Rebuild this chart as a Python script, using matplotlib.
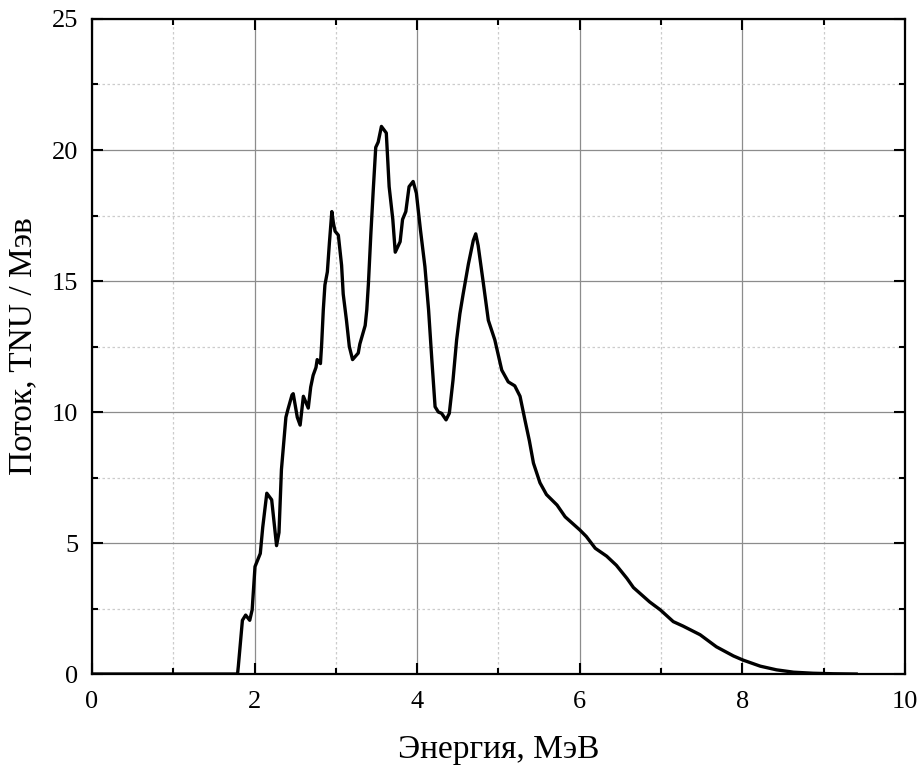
import matplotlib
matplotlib.use("Agg")
import matplotlib.pyplot as plt
from matplotlib.ticker import MultipleLocator

# spectrum
energy = [0.0, 1.79, 1.80, 1.82, 1.85, 1.89, 1.94, 1.97, 2.005, 2.07, 2.10,
          2.15, 2.21, 2.27, 2.30, 2.33, 2.385, 2.41, 2.46, 2.475, 2.525, 2.56,
          2.60, 2.66, 2.69, 2.72, 2.755, 2.77, 2.81, 2.825, 2.845, 2.865,
          2.895, 2.92, 2.95, 2.97, 2.99, 3.03, 3.07, 3.09, 3.13, 3.165, 3.205,
          3.275, 3.295, 3.36, 3.38, 3.40, 3.43, 3.46, 3.49, 3.52, 3.56, 3.62,
          3.655, 3.70, 3.73, 3.79, 3.82, 3.86, 3.90, 3.95, 3.99, 4.04, 4.095,
          4.14, 4.18, 4.22, 4.26, 4.30, 4.355, 4.395, 4.44, 4.485, 4.525,
          4.565, 4.63, 4.69, 4.72, 4.75, 4.81, 4.875, 4.955, 5.04, 5.12, 5.20,
          5.265, 5.325, 5.38, 5.43, 5.51, 5.59, 5.72, 5.82, 6.00, 6.08, 6.19,
          6.33, 6.45, 6.58, 6.66, 6.86, 6.99, 7.15, 7.27, 7.48, 7.68, 7.89,
          8.01, 8.22, 8.42, 8.63, 8.87, 9.12, 9.4]
flux = [0.0, 0.0, 0.3, 1.0, 2.05, 2.25, 2.05, 2.45, 4.1, 4.6, 5.6,
        6.9, 6.65, 4.9, 5.4, 7.8, 9.8, 10.1, 10.65, 10.7, 9.8, 9.5,
        10.6, 10.15, 10.95, 11.4, 11.7, 12.0, 11.85, 12.6, 13.9, 14.85,
        15.35, 16.45, 17.65, 17.2, 16.9, 16.75, 15.6, 14.5, 13.5, 12.5, 12.0,
        12.25, 12.6, 13.3, 13.9, 14.9, 16.8, 18.5, 20.1, 20.3, 20.9, 20.65,
        18.6, 17.35, 16.1, 16.5, 17.35, 17.65, 18.6, 18.8, 18.35, 16.95, 15.55,
        13.9, 12.0, 10.2, 10.0, 9.95, 9.7, 9.95, 11.2, 12.75, 13.75,
        14.5, 15.65, 16.55, 16.8, 16.35, 15.0, 13.5, 12.75, 11.6, 11.15, 11.0,
        10.6, 9.7, 8.9, 8.05, 7.3, 6.85, 6.45, 6.0, 5.5, 5.25, 4.8,
        4.5, 4.15, 3.65, 3.3, 2.75, 2.45, 2.0, 1.83, 1.5, 1.04, 0.69,
        0.53, 0.3, 0.16, 0.07, 0.03, 0.01, 0.0]

plt.rcParams["font.family"] = ["Liberation Serif", "DejaVu Serif"]

fig = plt.figure(figsize=(9.21, 7.69), dpi=100)
ax = fig.add_axes([0.0999, 0.1235, 0.8827, 0.8518])

ax.plot(energy, flux, color="black", lw=2.4, solid_joinstyle="round")

ax.set_xlim(0, 10)
ax.set_ylim(0, 25)
ax.xaxis.set_major_locator(MultipleLocator(2))
ax.xaxis.set_minor_locator(MultipleLocator(1))
ax.yaxis.set_major_locator(MultipleLocator(5))
ax.yaxis.set_minor_locator(MultipleLocator(2.5))

ax.grid(which="major", color="#8c8c8c", lw=0.9, ls="-")
ax.grid(which="minor", color="#cccccc", lw=0.9, ls=(0, (2, 2)))
ax.set_axisbelow(True)

ax.tick_params(which="both", direction="in", top=True, right=True,
               labelsize=19, width=1.5)
ax.tick_params(axis="x", pad=12)
ax.tick_params(axis="y", pad=10)
ax.tick_params(which="major", length=8)
ax.tick_params(which="minor", length=4)
for s in ax.spines.values():
    s.set_linewidth(1.6)

ax.set_xlabel("Энергия, МэВ", fontsize=24, labelpad=16)
ax.set_ylabel("Поток, TNU / Мэв", fontsize=24, labelpad=10)

fig.savefig("out.png", dpi=100)
